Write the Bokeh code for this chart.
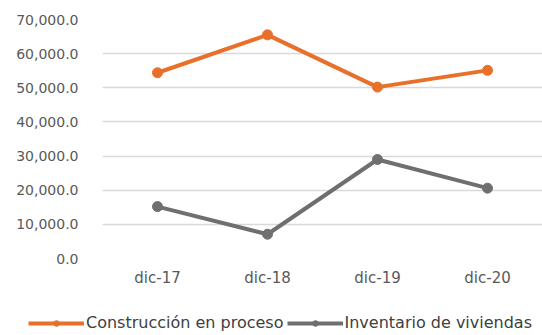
from bokeh.plotting import figure
from bokeh.layouts import column, row
from bokeh.models import Legend, LegendItem, NumeralTickFormatter, FixedTicker, Range1d
from bokeh.embed import file_html
from bokeh.resources import INLINE

categories = ["dic-17", "dic-18", "dic-19", "dic-20"]
construccion = [54400, 65500, 50200, 55100]
inventario = [15200, 7100, 29000, 20600]
y_ticks = [0, 10000, 20000, 30000, 40000, 50000, 60000, 70000]
series_names = ["Construcción en proceso", "Inventario de viviendas"]

ORANGE = "#E8702A"
GRAY = "#6F6F6F"
FONT = "DejaVu Sans"

p = figure(frame_width=440, frame_height=239, x_range=categories, y_range=Range1d(0, 70000),
           output_backend="svg", toolbar_location=None,
           min_border_left=102, min_border_right=0, min_border_top=19, min_border_bottom=33)
p.outline_line_color = None
p.background_fill_color = "white"

p.line(categories, construccion, line_color=ORANGE, line_width=4)
p.scatter(categories, construccion, size=10, fill_color=ORANGE, line_color=ORANGE)
p.line(categories, inventario, line_color=GRAY, line_width=4)
p.scatter(categories, inventario, size=10, fill_color=GRAY, line_color=GRAY)

p.yaxis.ticker = FixedTicker(ticks=y_ticks)
p.yaxis.formatter = NumeralTickFormatter(format="0,0.0")
for ax in (p.xaxis, p.yaxis):
    ax.axis_line_color = None
    ax.major_tick_line_color = None
    ax.minor_tick_line_color = None
    ax.major_label_text_font = FONT
    ax.major_label_text_color = "#595959"
p.yaxis.major_label_text_font_size = "14px"
p.xaxis.major_label_text_font_size = "15px"
p.yaxis.major_label_standoff = 18
p.xaxis.major_label_standoff = 4
p.xgrid.grid_line_color = None
p.ygrid.grid_line_color = "#D9D9D9"
p.ygrid.grid_line_width = 1.5

# legend strip below the chart (series glyphs drawn off-range, only the legend shows)
q = figure(width=542, height=44, x_range=Range1d(0, 1), y_range=Range1d(0, 1),
           x_axis_location=None, y_axis_location=None,
           output_backend="svg", toolbar_location=None,
           min_border_left=0, min_border_right=0, min_border_top=0, min_border_bottom=0)
q.grid.visible = False
q.outline_line_color = None
off = [-5, -4]
l1 = q.line(off, off, line_color=ORANGE, line_width=4)
m1 = q.scatter(off, off, size=8, fill_color=ORANGE, line_color=ORANGE)
l2 = q.line(off, off, line_color=GRAY, line_width=4)
m2 = q.scatter(off, off, size=8, fill_color=GRAY, line_color=GRAY)
legend = Legend(items=[LegendItem(label=series_names[0], renderers=[l1, m1], index=0),
                       LegendItem(label=series_names[1], renderers=[l2, m2], index=0)],
                orientation="horizontal", location=(28, 3),
                label_text_font=FONT, label_text_font_size="16px", label_text_color="#404040",
                glyph_width=56, glyph_height=14, label_standoff=2, spacing=3,
                border_line_color=None, background_fill_alpha=0, margin=0, padding=4)
q.add_layout(legend, "center")

layout = column(p, row(q), spacing=0)
open("out.html", "w").write(file_html(layout, INLINE))
